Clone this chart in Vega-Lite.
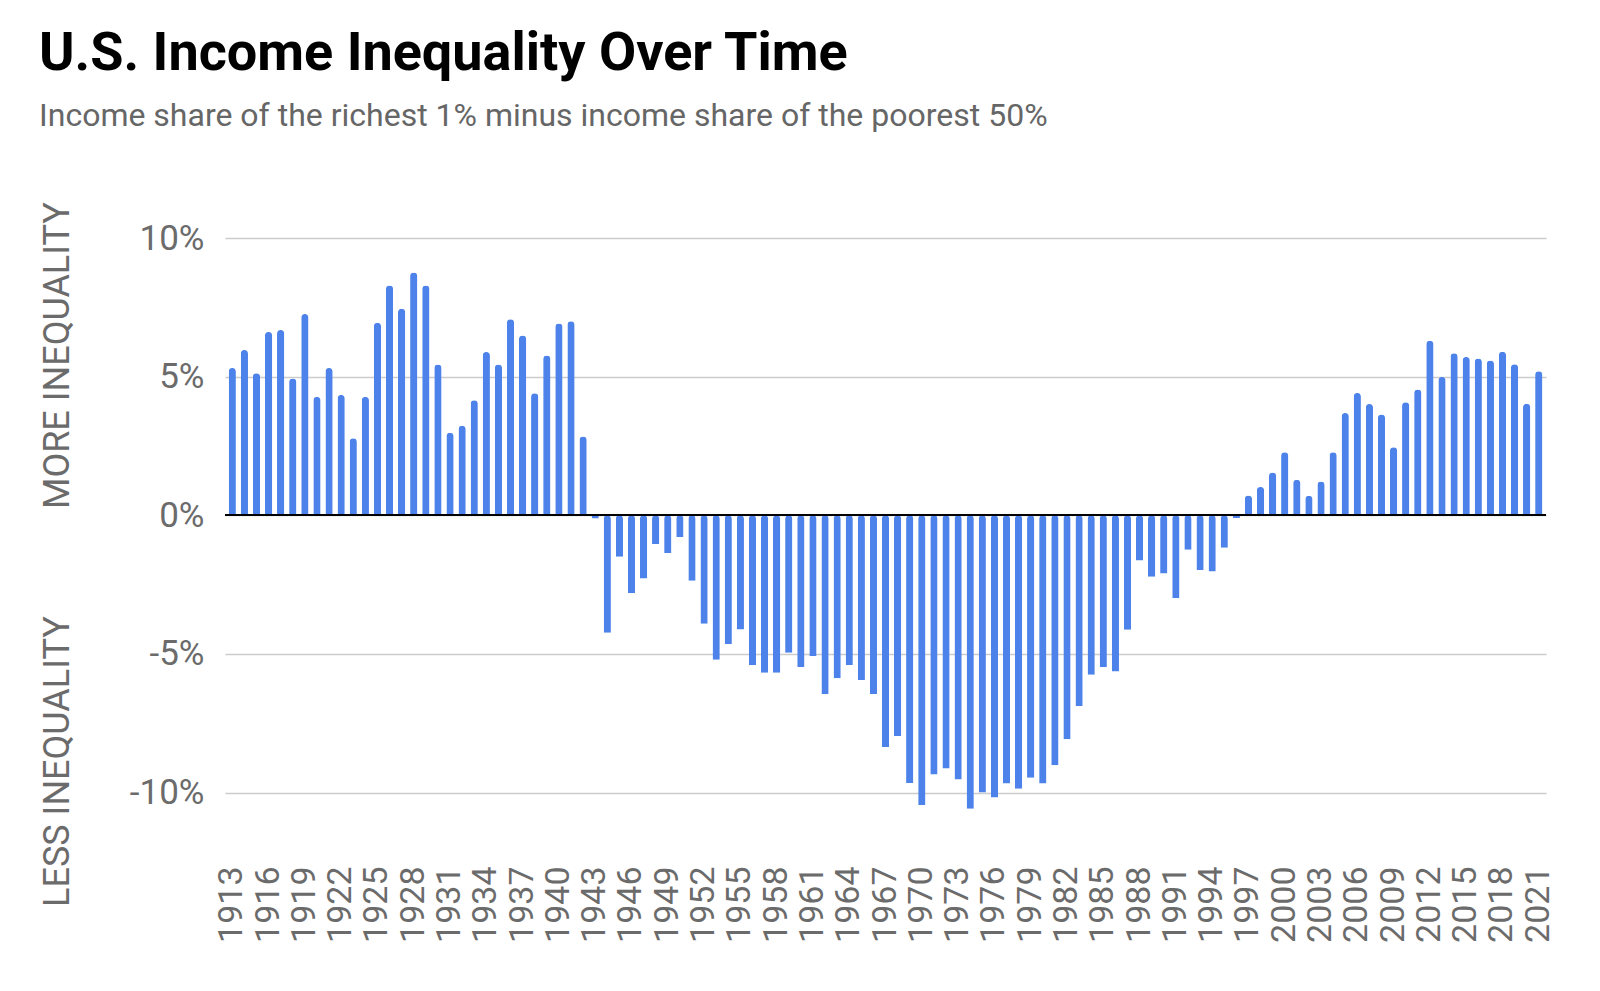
{
  "$schema": "https://vega.github.io/schema/vega-lite/v6.json",
  "autosize": "none",
  "padding": {"left": 225, "top": 238, "right": 54, "bottom": 143},
  "width": 1321,
  "height": 610,
  "background": "white",
  "title": {
    "text": "U.S. Income Inequality Over Time",
    "subtitle": "Income share of the richest 1% minus income share of the poorest 50%",
    "anchor": "start",
    "frame": "bounds",
    "offset": 70,
    "font": "Roboto",
    "fontSize": 54,
    "fontWeight": "bold",
    "color": "#000000",
    "subtitleFont": "Roboto",
    "subtitleFontSize": 32,
    "subtitleColor": "#666666",
    "subtitlePadding": 20
  },
  "data": {
    "values": [
      {"year": 1913, "value": 5.31}, {"year": 1914, "value": 5.96}, {"year": 1915, "value": 5.12},
      {"year": 1916, "value": 6.61}, {"year": 1917, "value": 6.68}, {"year": 1918, "value": 4.93},
      {"year": 1919, "value": 7.26}, {"year": 1920, "value": 4.27}, {"year": 1921, "value": 5.31},
      {"year": 1922, "value": 4.34}, {"year": 1923, "value": 2.78}, {"year": 1924, "value": 4.27},
      {"year": 1925, "value": 6.94}, {"year": 1926, "value": 8.29}, {"year": 1927, "value": 7.45},
      {"year": 1928, "value": 8.76}, {"year": 1929, "value": 8.29}, {"year": 1930, "value": 5.44},
      {"year": 1931, "value": 2.98}, {"year": 1932, "value": 3.23}, {"year": 1933, "value": 4.15},
      {"year": 1934, "value": 5.89}, {"year": 1935, "value": 5.44}, {"year": 1936, "value": 7.07},
      {"year": 1937, "value": 6.48}, {"year": 1938, "value": 4.40}, {"year": 1939, "value": 5.76},
      {"year": 1940, "value": 6.92}, {"year": 1941, "value": 7.00}, {"year": 1942, "value": 2.84},
      {"year": 1943, "value": -0.12}, {"year": 1944, "value": -4.24}, {"year": 1945, "value": -1.50},
      {"year": 1946, "value": -2.81}, {"year": 1947, "value": -2.28}, {"year": 1948, "value": -1.04},
      {"year": 1949, "value": -1.36}, {"year": 1950, "value": -0.79}, {"year": 1951, "value": -2.36},
      {"year": 1952, "value": -3.91}, {"year": 1953, "value": -5.21}, {"year": 1954, "value": -4.64},
      {"year": 1955, "value": -4.12}, {"year": 1956, "value": -5.40}, {"year": 1957, "value": -5.68},
      {"year": 1958, "value": -5.68}, {"year": 1959, "value": -4.96}, {"year": 1960, "value": -5.47},
      {"year": 1961, "value": -5.08}, {"year": 1962, "value": -6.45}, {"year": 1963, "value": -5.88},
      {"year": 1964, "value": -5.40}, {"year": 1965, "value": -5.94}, {"year": 1966, "value": -6.45},
      {"year": 1967, "value": -8.36}, {"year": 1968, "value": -7.97}, {"year": 1969, "value": -9.66},
      {"year": 1970, "value": -10.45}, {"year": 1971, "value": -9.35}, {"year": 1972, "value": -9.13},
      {"year": 1973, "value": -9.53}, {"year": 1974, "value": -10.58}, {"year": 1975, "value": -10.00},
      {"year": 1976, "value": -10.18}, {"year": 1977, "value": -9.67}, {"year": 1978, "value": -9.86},
      {"year": 1979, "value": -9.47}, {"year": 1980, "value": -9.67}, {"year": 1981, "value": -9.02},
      {"year": 1982, "value": -8.08}, {"year": 1983, "value": -6.88}, {"year": 1984, "value": -5.75},
      {"year": 1985, "value": -5.48}, {"year": 1986, "value": -5.63}, {"year": 1987, "value": -4.13},
      {"year": 1988, "value": -1.63}, {"year": 1989, "value": -2.22}, {"year": 1990, "value": -2.10},
      {"year": 1991, "value": -2.99}, {"year": 1992, "value": -1.24}, {"year": 1993, "value": -1.97},
      {"year": 1994, "value": -2.03}, {"year": 1995, "value": -1.17}, {"year": 1996, "value": -0.10},
      {"year": 1997, "value": 0.71}, {"year": 1998, "value": 1.02}, {"year": 1999, "value": 1.54},
      {"year": 2000, "value": 2.27}, {"year": 2001, "value": 1.28}, {"year": 2002, "value": 0.70},
      {"year": 2003, "value": 1.22}, {"year": 2004, "value": 2.27}, {"year": 2005, "value": 3.69},
      {"year": 2006, "value": 4.41}, {"year": 2007, "value": 4.01}, {"year": 2008, "value": 3.63},
      {"year": 2009, "value": 2.45}, {"year": 2010, "value": 4.08}, {"year": 2011, "value": 4.54},
      {"year": 2012, "value": 6.29}, {"year": 2013, "value": 4.99}, {"year": 2014, "value": 5.84},
      {"year": 2015, "value": 5.71}, {"year": 2016, "value": 5.65}, {"year": 2017, "value": 5.58},
      {"year": 2018, "value": 5.90}, {"year": 2019, "value": 5.45}, {"year": 2020, "value": 4.02},
      {"year": 2021, "value": 5.19}
    ]
  },
  "layer": [
    {
      "mark": {"type": "bar", "color": "#4d82ea", "width": {"band": 0.6}, "cornerRadiusEnd": 3.5},
      "encoding": {
        "x": {
          "field": "year",
          "type": "ordinal",
          "scale": {"paddingInner": 0, "paddingOuter": 0.1},
          "axis": {
            "title": null,
            "values": [1913, 1916, 1919, 1922, 1925, 1928, 1931, 1934, 1937, 1940, 1943, 1946, 1949, 1952, 1955, 1958, 1961, 1964, 1967, 1970, 1973, 1976, 1979, 1982, 1985, 1988, 1991, 1994, 1997, 2000, 2003, 2006, 2009, 2012, 2015, 2018, 2021],
            "labelAngle": -90,
            "labelOverlap": false,
            "labelPadding": 18,
            "labelFont": "Roboto",
            "labelFontSize": 34,
            "labelColor": "#6b6b6b",
            "ticks": false,
            "domain": false
          }
        },
        "y": {
          "field": "value",
          "type": "quantitative",
          "scale": {"domain": [-12, 10], "nice": false, "zero": false},
          "axis": {
            "values": [-10, -5, 0, 5, 10],
            "labelExpr": "datum.value + '%'",
            "labelFont": "Roboto",
            "labelFontSize": 35,
            "labelColor": "#6b6b6b",
            "labelPadding": 21,
            "ticks": false,
            "domain": false,
            "gridColor": "#cccccc",
            "gridWidth": 1.5,
            "title": "LESS INEQUALITY\u00a0\u00a0\u00a0\u00a0\u00a0\u00a0\u00a0\u00a0\u00a0\u00a0\u00a0\u00a0MORE INEQUALITY",
            "titleFont": "Roboto",
            "titleFontSize": 36,
            "titleFontWeight": "normal",
            "titleColor": "#6b6b6b",
            "titleAngle": -90,
            "titleAlign": "center",
            "titleBaseline": "alphabetic",
            "titleX": -157,
            "titleY": 316
          }
        }
      }
    },
    {
      "mark": {"type": "rule", "color": "#000000", "strokeWidth": 1.5},
      "encoding": {"y": {"datum": 0}}
    }
  ],
  "config": {"view": {"stroke": null}}
}
